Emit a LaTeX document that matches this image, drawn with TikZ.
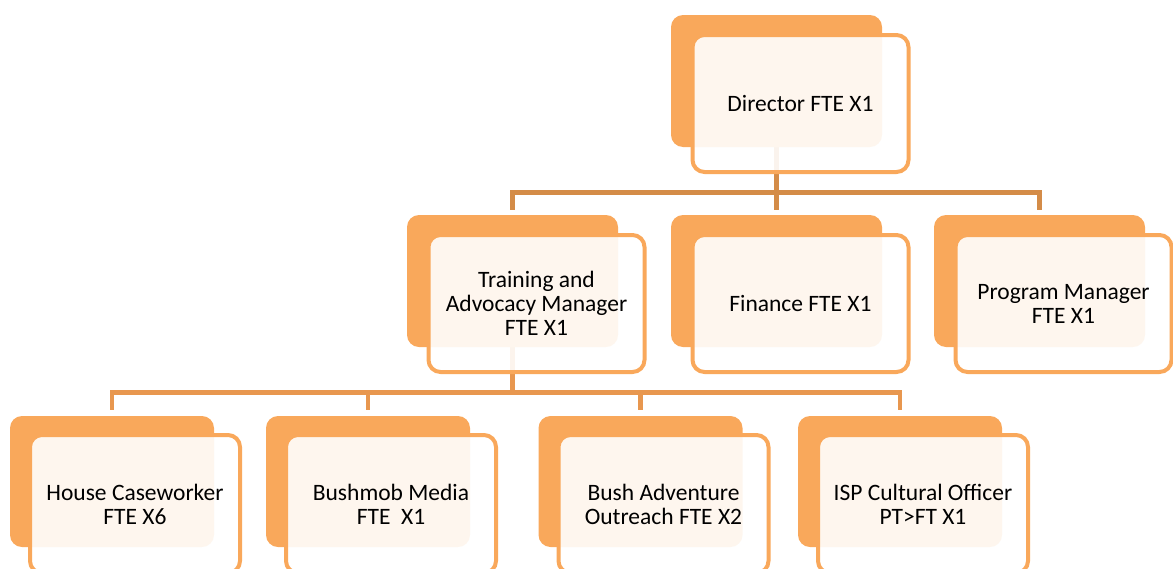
\documentclass[tikz,border=0pt]{standalone}
\usepackage{fontspec}
\setmainfont{Carlito}
\usetikzlibrary{backgrounds}
\definecolor{boxorange}{HTML}{F9A85B}
\definecolor{linkdark}{HTML}{D48C48}
\definecolor{linklight}{HTML}{E8974F}
\begin{document}
\begin{tikzpicture}[x=1pt,y=-1pt,
	back/.style={rectangle,rounded corners=12pt,fill=boxorange,inner sep=0,outer sep=0,minimum width=211pt,minimum height=132pt},
	backsm/.style={back,minimum width=204pt,minimum height=131pt},
	front/.style={rectangle,rounded corners=12pt,draw=boxorange,line width=4pt,fill=white,fill opacity=0.9,text opacity=1,inner sep=0,align=center,minimum width=216pt,minimum height=137pt,font=\fontsize{23.5pt}{24pt}\selectfont},
	frontsm/.style={front,minimum width=210pt,minimum height=138pt},
	linkA/.style={draw=linkdark,line width=4.5pt},
	linkB/.style={draw=linklight,line width=4.5pt}]
	\useasboundingbox (0,0) rectangle (1173,568);
	% top
	\node[back] (dirb) at (776.5,81) {};
	\node[front] (dir) at ([shift={(24,22.5)}]dirb.center) {Director FTE X1};
	% managers
	\node[back] (trainb) at (512.5,281) {};
	\node[back] (finb) at (776.5,281) {};
	\node[back] (progb) at (1039.5,281) {};
	\node[front] (train) at ([shift={(24,22.5)}]trainb.center) {Training and\\Advocacy Manager\\FTE X1};
	\node[front] (fin) at ([shift={(24,22.5)}]finb.center) {Finance FTE X1};
	\node[front] (prog) at ([shift={(24,22.5)}]progb.center) {Program Manager\\FTE X1};
	% staff
	\node[backsm] (houseb) at (112,481.5) {};
	\node[backsm] (mediab) at (368,481.5) {};
	\node[backsm] (advb) at (640.5,481.5) {};
	\node[backsm] (ispb) at (900,481.5) {};
	\node[frontsm] (house) at ([shift={(23,22.5)}]houseb.center) {House Caseworker\\FTE X6};
	\node[frontsm] (media) at ([shift={(23,22.5)}]mediab.center) {Bushmob Media\\FTE\ \ X1};
	\node[frontsm] (adv) at ([shift={(23,22.5)}]advb.center) {Bush Adventure\\Outreach FTE X2};
	\node[frontsm] (isp) at ([shift={(23,22.5)}]ispb.center) {ISP Cultural Officer\\PT>FT X1};
	\begin{scope}[on background layer]
		\draw[linkA] (dirb.south) -- ++(0,45.5) coordinate (j1);
		\foreach \n in {trainb,finb,progb}
			\draw[linkA] (j1) -| ([yshift=5pt]\n.north);
		\draw[linkB] (trainb.south) -- ++(0,45.5) coordinate (j2);
		\foreach \n in {houseb,mediab,advb,ispb}
			\draw[linkB] (j2) -| ([yshift=6pt]\n.north);
	\end{scope}
\end{tikzpicture}
\end{document}
